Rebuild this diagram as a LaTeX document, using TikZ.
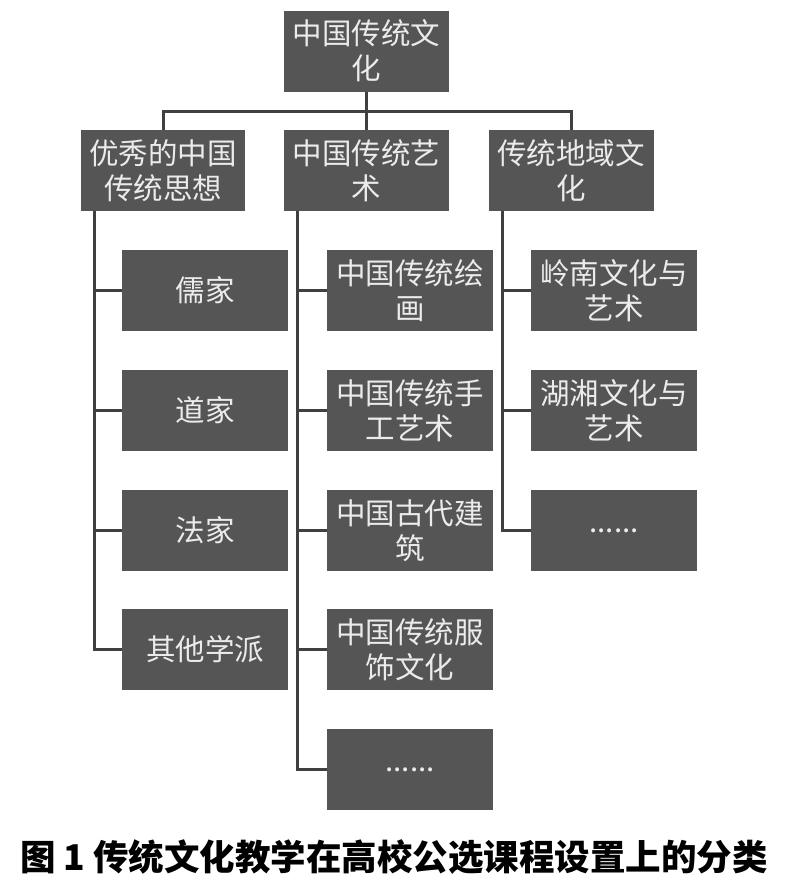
\documentclass[tikz,border=0pt]{standalone}
\usepackage{fontspec}
\setmainfont{Noto Sans CJK SC}
\newfontfamily\cjk{Noto Sans CJK SC}
\usetikzlibrary{positioning, calc}
\definecolor{boxgray}{HTML}{555555}
\definecolor{linegray}{HTML}{404040}
\begin{document}
\begin{tikzpicture}[x=1pt, y=-1pt,
        cat/.style={fill=boxgray, text=white!92!black, minimum width=165pt, minimum height=81pt, inner sep=0pt, align=center, font=\cjk\fontsize{29.5}{35}\selectfont},
        item/.style={cat, minimum width=166pt},
        link/.style={draw=linegray, line width=3pt},
        caption/.style={font=\cjk\bfseries\fontsize{35.5}{40}\selectfont}
    ]
        \useasboundingbox (0,0) rectangle (794,887);

        % --- root and first level ---
        \node[cat] (root) at (366.5, 51) {中国传统文\\化};
        \node[cat, minimum width=164pt] (think) at (163, 170.5) {优秀的中国\\传统思想};
        \node[cat] (art) at (366.5, 170.5) {中国传统艺\\术};
        \node[cat] (region) at (571, 170.5) {传统地域文\\化};

        % --- thought schools ---
        \node[item] (ru) at (205, 290.5) {儒家};
        \node[item] (dao) at (205, 410.5) {道家};
        \node[item] (fa) at (205, 530.5) {法家};
        \node[item] (other) at (205, 649.5) {其他学派};

        % --- arts ---
        \node[item] (paint) at (410, 290.5) {中国传统绘\\画};
        \node[item] (craft) at (410, 410.5) {中国传统手\\工艺术};
        \node[item] (build) at (410, 530.5) {中国古代建\\筑};
        \node[item] (dress) at (410, 649.5) {中国传统服\\饰文化};
        \node[item] (artmore) at (410, 769.5) {......};

        % --- regional cultures ---
        \node[item] (lingnan) at (614, 290.5) {岭南文化与\\艺术};
        \node[item] (huxiang) at (614, 410.5) {湖湘文化与\\艺术};
        \node[item] (regmore) at (614, 530.5) {......};

        % --- bus from root ---
        \coordinate (bus) at ($(root.south)+(0,20)$);
        \draw[link] (root.south) -- (art.north);
        \draw[link] (think.north) |- (bus) -| (region.north);

        % --- branch lines ---
        \coordinate (tk) at ($(think.south west)+(14,0)$);
        \coordinate (ak) at ($(art.south west)+(14,0)$);
        \coordinate (rk) at ($(region.south west)+(14,0)$);
        \foreach \c in {ru, dao, fa, other}
            \draw[link] (tk) |- (\c.west);
        \foreach \c in {paint, craft, build, dress, artmore}
            \draw[link] (ak) |- (\c.west);
        \foreach \c in {lingnan, huxiang, regmore}
            \draw[link] (rk) |- (\c.west);

        % --- caption ---
        \node[caption] (cap) at (394, 857) {图 1\ 传统文化教学在高校公选课程设置上的分类};
    \end{tikzpicture}
\end{document}
